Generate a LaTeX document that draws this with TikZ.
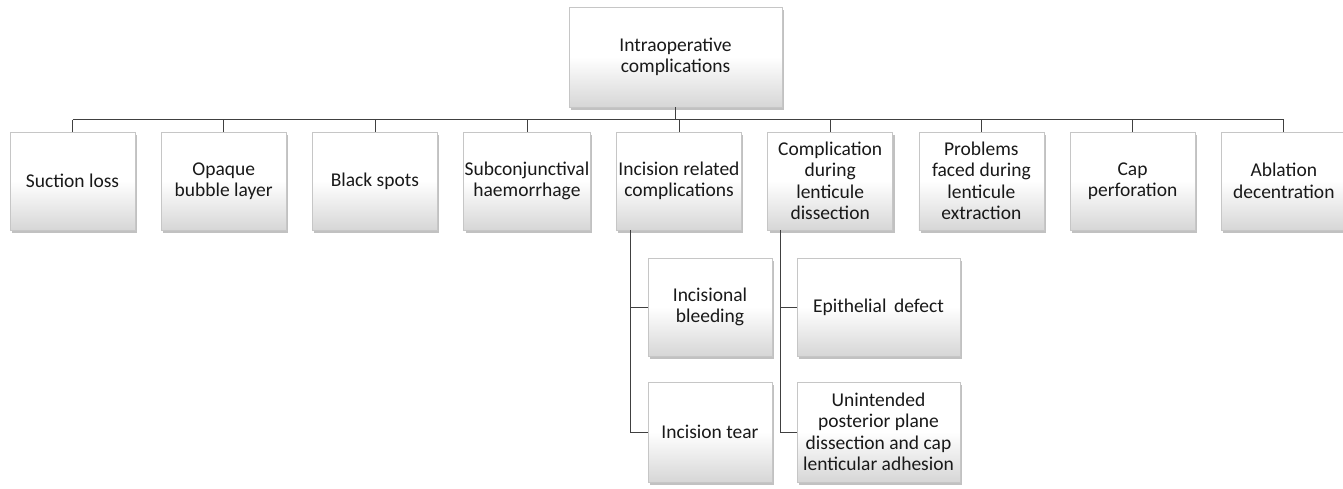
\documentclass[tikz,border=0pt]{standalone}
\usepackage{fontspec}
\setmainfont{Carlito}
\usepackage{xcolor}
\usetikzlibrary{positioning,shadows}

\begin{document}
\begin{tikzpicture}[x=1pt, y=-1pt,
  box/.style={rectangle, draw=gray!45, line width=0.5pt,
    top color=white, bottom color=gray!32, middle color=white,
    drop shadow={shadow xshift=2pt, shadow yshift=-3pt, fill=gray!70, opacity=0.7},
    minimum width=125pt, minimum height=98pt, inner sep=1pt, align=center,
    font=\fontsize{19.5}{21.5}\selectfont, text=black!90},
  kid/.style={box, minimum width=124pt},
  wide/.style={box, minimum width=163pt},
  link/.style={draw=black!75, line width=1pt},
  node distance=25.7pt
]
\useasboundingbox (0,0) rectangle (1343,489);

% root
\node[box, minimum width=213pt, minimum height=100pt] (root) at (675.5,57) {Intraoperative\\complications};
\coordinate (bus) at (675.5,120);

% first level
\node[box] (suction) at (72.5,181) {Suction loss};
\node[box, right=of suction] (bubble) {Opaque\\bubble layer};
\node[box, right=of bubble] (spots) {Black spots};
\node[box, right=of spots] (subconj) {Subconjunctival\\haemorrhage};
\node[box, right=of subconj] (incision) {Incision related\\complications};
\node[box, right=of incision] (dissect) {Complication\\during\\lenticule\\dissection};
\node[box, right=of dissect] (extract) {Problems\\faced during\\lenticule\\extraction};
\node[box, right=of extract] (cap) {Cap\\perforation};
\node[box, right=of cap] (ablation) {Ablation\\decentration};

% second level
\node[kid] (bleed) at (710,307) {Incisional\\bleeding};
\node[kid, minimum height=100pt] (tear) at (710,432) {Incision tear};
\node[wide] (epith) at (878.5,307) {Epithelial\, defect};
\node[wide, minimum height=100pt] (posterior) at (878.5,432) {Unintended\\posterior plane\\dissection and cap\\lenticular adhesion};

% bus lines
\draw[link] (root.south) -- (bus);
\draw[link] (suction.north |- bus) -- (ablation.north |- bus);
\foreach \n in {suction,bubble,spots,subconj,incision,dissect,extract,cap,ablation}
  \draw[link, line width=0.7pt] (\n.north |- bus) -- (\n.north);

% branches
\draw[link, line width=0.7pt] ([xshift=14pt]incision.south west) |- (tear.west);
\draw[link, line width=0.7pt] ([xshift=14pt]incision.south west |- bleed.west) -- (bleed.west);
\draw[link, line width=0.7pt] ([xshift=13pt]dissect.south west) |- (posterior.west);
\draw[link, line width=0.7pt] ([xshift=13pt]dissect.south west |- epith.west) -- (epith.west);
\end{tikzpicture}
\end{document}
